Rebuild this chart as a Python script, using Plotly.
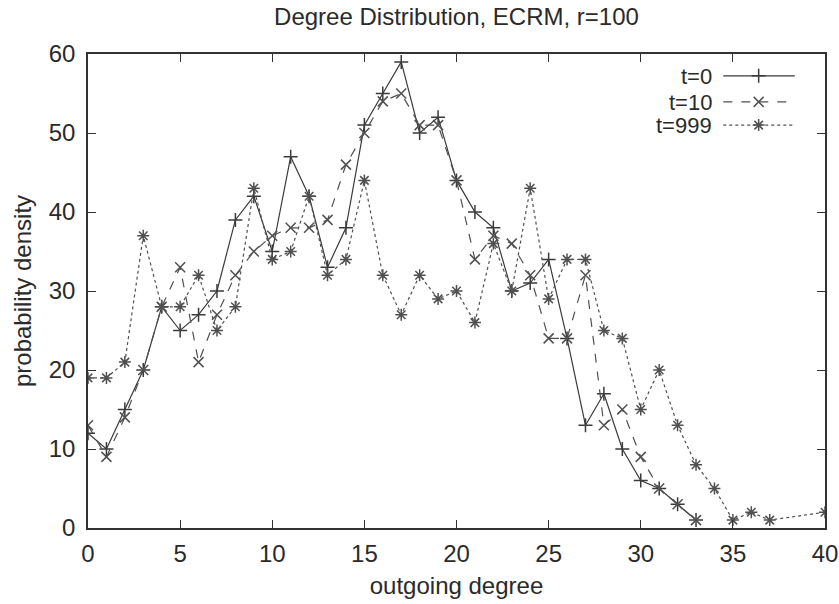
import plotly.graph_objects as go

title = "Degree Distribution, ECRM, r=100"
x_label = "outgoing degree"
y_label = "probability density"

x_t0 = list(range(0, 34))
y_t0 = [12, 10, 15, 20, 28, 25, 27, 30, 39, 42, 35, 47, 42, 33, 38, 51, 55, 59, 50, 52,
        44, 40, 38, 30, 31, 34, 24, 13, 17, 10, 6, 5, 3, 1]

x_t10 = list(range(0, 34))
y_t10 = [13, 9, 14, 20, 28, 33, 21, 27, 32, 35, 37, 38, 38, 39, 46, 50, 54, 55, 51, 51,
         44, 34, 37, 36, 32, 24, 24, 32, 13, 15, 9, 5, 3, 1]

x_t999 = list(range(0, 38)) + [40]
y_t999 = [19, 19, 21, 37, 28, 28, 32, 25, 28, 43, 34, 35, 42, 32, 34, 44, 32, 27, 32, 29,
          30, 26, 36, 30, 43, 29, 34, 34, 25, 24, 15, 20, 13, 8, 5, 1, 2, 1, 2]

series_names = ["t=0", "t=10", "t=999"]
x_ticks = [0, 5, 10, 15, 20, 25, 30, 35, 40]
y_ticks = [0, 10, 20, 30, 40, 50, 60]

FONT = "Liberation Sans, Arial, sans-serif"
TXT = "#2a2a2a"
styles = [
    dict(dash="solid", symbol="cross-thin-open", color="#3a3a3a"),
    dict(dash="dash", symbol="x-thin-open", color="#505050"),
    dict(dash="dot", symbol="asterisk-open", color="#505050"),
]

fig = go.Figure()
for (xs, ys), name, st in zip([(x_t0, y_t0), (x_t10, y_t10), (x_t999, y_t999)], series_names, styles):
    fig.add_trace(go.Scatter(
        x=xs, y=ys, mode="lines+markers", name=name, showlegend=False,
        line=dict(color=st["color"], width=1.2, dash=st["dash"]),
        marker=dict(symbol=st["symbol"], size=10, color=st["color"],
                    line=dict(color=st["color"], width=1.5)),
    ))

# custom gnuplot-style legend (sample to the right of label)
leg_y = [0.954, 0.899, 0.850]
for name, st, ly in zip(series_names, styles, leg_y):
    fig.add_trace(go.Scatter(
        x=[0.862, 0.91, 0.959], y=[ly, ly, ly], xaxis="x2", yaxis="y2",
        mode="lines", showlegend=False, hoverinfo="skip",
        line=dict(color=st["color"], width=1.2, dash=st["dash"]),
    ))
    fig.add_trace(go.Scatter(
        x=[0.91], y=[ly], xaxis="x2", yaxis="y2",
        mode="markers", showlegend=False, hoverinfo="skip",
        marker=dict(symbol=st["symbol"], size=10, color=st["color"],
                    line=dict(color=st["color"], width=1.5)),
    ))
    fig.add_annotation(
        x=0.848, y=ly, xref="x2", yref="y2", text=name, showarrow=False,
        xanchor="right", yanchor="middle", height=20, borderpad=0,
        font=dict(family=FONT, size=22, color=TXT),
    )

axis_common = dict(
    showgrid=False, zeroline=False, showline=True, linecolor="#333", linewidth=1.5,
    mirror="allticks", ticks="inside", ticklen=8, tickwidth=1.2, tickcolor="#333",
    tickfont=dict(family=FONT, size=24, color=TXT), automargin=False,
)
fig.update_layout(
    width=839, height=604,
    margin=dict(l=88, r=14, t=54, b=76),
    paper_bgcolor="white", plot_bgcolor="white",
    title=dict(text=title, x=0.5, xref="paper", xanchor="center", y=0.972, yanchor="middle",
               font=dict(family=FONT, size=24, color=TXT)),
    xaxis=dict(range=[0, 40], tickvals=x_ticks, ticktext=[str(v) for v in x_ticks],
               ticklabelstandoff=3,
               title=dict(text=x_label, font=dict(family=FONT, size=24, color=TXT), standoff=12),
               **axis_common),
    yaxis=dict(range=[0, 60], tickvals=y_ticks, ticktext=[str(v) for v in y_ticks],
               ticklabelstandoff=6,
               title=dict(text=y_label, font=dict(family=FONT, size=24, color=TXT), standoff=10),
               **axis_common),
    xaxis2=dict(range=[0, 1], overlaying="x", visible=False),
    yaxis2=dict(range=[0, 1], overlaying="y", visible=False),
)

fig.write_html("out.html", config={"displayModeBar": False},
               post_script="document.body.style.margin='0';")
